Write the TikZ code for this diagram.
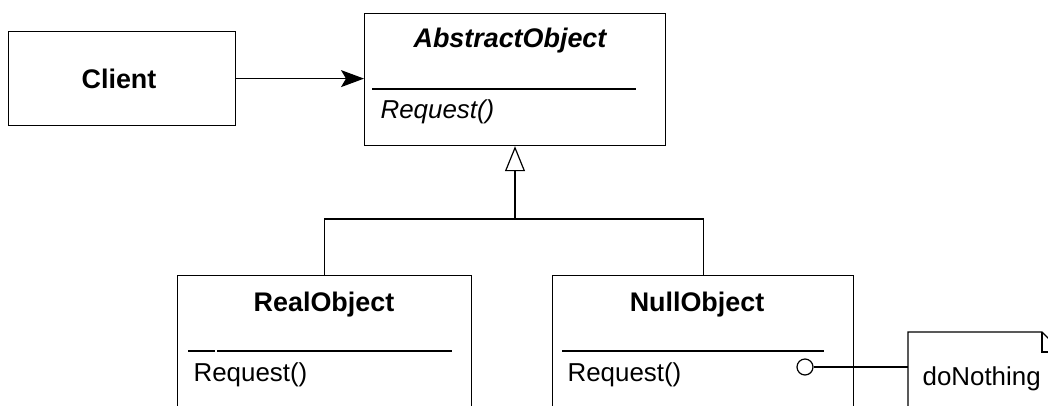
\documentclass[tikz,border=0pt]{standalone}
\usepackage{fontspec}
\setmainfont{Liberation Sans}
\usetikzlibrary{arrows.meta}
\begin{document}
\begin{tikzpicture}[x=1bp,y=-1bp,line width=1.2bp,
  box/.style={draw,inner sep=0,anchor=north west},
  title/.style={font=\bfseries\fontsize{27}{30}\selectfont,anchor=base,inner sep=0},
  op/.style={font=\fontsize{26}{30}\selectfont,anchor=base west,inner sep=0}]
\useasboundingbox (0,0) rectangle (1048,405);
\clip (0,0) rectangle (1048,405);
% Client
\node[box,minimum width=227bp,minimum height=94bp] (client) at (8,31) {};
\node[title] (clientname) at (119,88) {Client};
% AbstractObject
\node[box,minimum width=301bp,minimum height=132bp] (abstract) at (364,13) {};
\node[title,font=\bfseries\itshape\fontsize{27}{30}\selectfont] (abstractname) at (510,47) {AbstractObject};
\draw (372,89) -- (636,89);
\node[op,font=\itshape\fontsize{26}{30}\selectfont] (abstractop) at (380,118) {Request()};
% RealObject
\node[box,minimum width=294bp,minimum height=160bp] (real) at (177,275) {};
\node[title] (realname) at (324,311) {RealObject};
\draw (188,351) -- (215,351);
\draw (217,351) -- (452,351);
\node[op] (realop) at (193,381) {Request()};
% NullObject
\node[box,minimum width=301bp,minimum height=160bp] (null) at (552,275) {};
\node[title] (nullname) at (697,311) {NullObject};
\draw (562,351) -- (824,351);
\node[op] (nullop) at (567,381) {Request()};
\node[circle,draw,fill=white,minimum size=16bp,inner sep=0] (dot) at (805,367) {};
% Note
\node[inner sep=0,anchor=north west,minimum width=154bp,minimum height=100bp] (note) at (908,332) {};
\draw (note.north west) -- (1042,332) -- (1062,352) -- (1062,440) -- (908,440) -- cycle;
\draw (1042,332) -- (1042,352) -- (1062,352);
\node[op] (notetext) at (922,385) {doNothing};
% connectors
\draw[-{Stealth[length=23bp,width=17bp,inset=5bp]}] (client.east) -- (client.east -| abstract.west);
\coordinate (j) at (515,219);
\draw[-{Triangle[open,length=25bp,width=20bp]}] (j) -- (j |- abstract.south);
\draw (real.north) |- (j) -| (null.north);
\draw (dot.east) -- (dot.east -| note.west);
\end{tikzpicture}
\end{document}
